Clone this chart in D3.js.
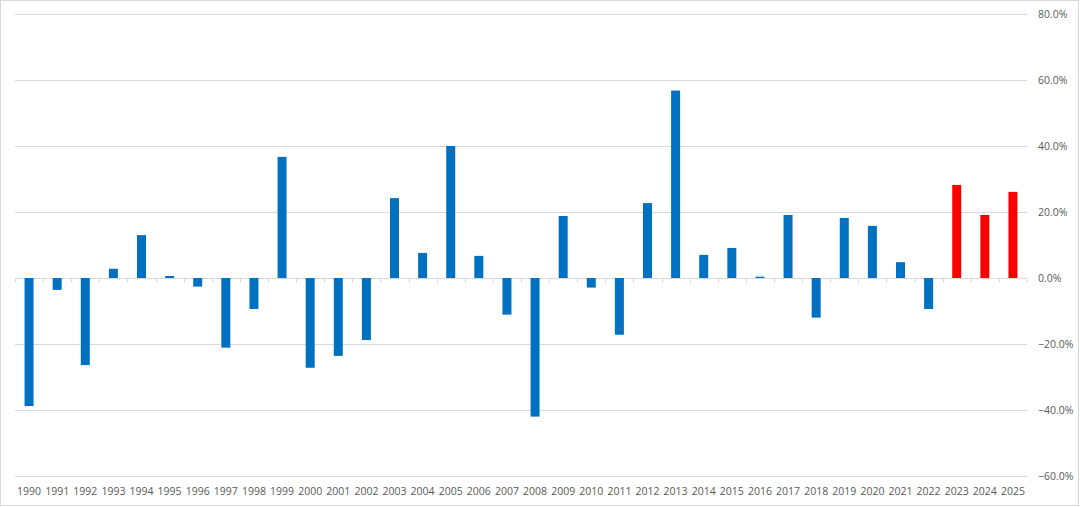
<!DOCTYPE html>
<html>
<head>
<meta charset="utf-8">
<script src="https://cdn.jsdelivr.net/npm/d3@7/dist/d3.min.js"></script>
<style>
  html, body { margin: 0; padding: 0; background: #fff; }
  text { font-family: "Open Sans", "Liberation Sans", sans-serif; fill: #595959; }
</style>
</head>
<body>
<div id="chart"></div>
<script>
// annual returns, in percent
const years = d3.range(1990, 2026).map(String);
const returns = [
    -38.8, -3.6, -26.4, 2.8, 13.0, 0.6, -2.6, -21.1, -9.4, 36.7,
    -27.2, -23.6, -18.8, 24.2, 7.6, 40.0, 6.7, -11.1, -42.0, 18.8,
    -2.9, -17.2, 22.7, 56.8, 7.0, 9.1, 0.4, 19.1, -12.0, 18.2,
    15.8, 4.8, -9.4, 28.2, 19.1, 26.1
];
const forecastYears = ['2023', '2024', '2025'];
const yTicks = [-60, -40, -20, 0, 20, 40, 60, 80];

const width = 1080, height = 507;
const margin = { top: 14, right: 53, bottom: 31, left: 15 };

const svg = d3.select('#chart').append('svg')
    .attr('width', width)
    .attr('height', height);

// outer frame
svg.append('rect')
    .attr('x', 0.5).attr('y', 0.5)
    .attr('width', width - 2).attr('height', height - 2)
    .attr('fill', 'none')
    .attr('stroke', '#d9d9d9');

const x = d3.scaleBand()
    .domain(years)
    .range([margin.left, width - margin.right])
    .paddingInner(0.68)
    .paddingOuter(0.34);

const y = d3.scaleLinear()
    .domain([-60, 80])
    .range([height - margin.bottom, margin.top]);

// gridlines
svg.append('g')
    .selectAll('line')
    .data(yTicks)
    .join('line')
    .attr('x1', margin.left)
    .attr('x2', width - margin.right)
    .attr('y1', d => Math.round(y(d)) + 0.5)
    .attr('y2', d => Math.round(y(d)) + 0.5)
    .attr('stroke', '#d9d9d9');

// right-hand value labels
svg.append('g')
    .selectAll('text')
    .data(yTicks)
    .join('text')
    .attr('x', width - margin.right + 11)
    .attr('y', d => y(d))
    .attr('dy', '0.35em')
    .attr('font-size', 10.5)
    .text(d => d3.format('.1f')(d) + '%');

// tick marks along the zero line at category boundaries
const step = x.step();
const y0 = Math.round(y(0)) + 0.5;
svg.append('g')
    .selectAll('line')
    .data(d3.range(years.length + 1))
    .join('line')
    .attr('x1', i => Math.round(margin.left + i * step) + 0.5)
    .attr('x2', i => Math.round(margin.left + i * step) + 0.5)
    .attr('y1', y0)
    .attr('y2', y0 + 4)
    .attr('stroke', '#d9d9d9');

// bars
svg.append('g')
    .selectAll('rect')
    .data(years.map((yr, i) => ({ year: yr, value: returns[i] })))
    .join('rect')
    .attr('x', d => x(d.year))
    .attr('width', x.bandwidth())
    .attr('y', d => y(Math.max(0, d.value)))
    .attr('height', d => Math.abs(y(d.value) - y(0)))
    .attr('fill', d => forecastYears.includes(d.year) ? '#ff0000' : '#0070c0');

// year labels
svg.append('g')
    .selectAll('text')
    .data(years)
    .join('text')
    .attr('x', d => x(d) + x.bandwidth() / 2)
    .attr('y', height - 16)
    .attr('dy', '0.35em')
    .attr('text-anchor', 'middle')
    .attr('font-size', 10.5)
    .text(d => d);
</script>
</body>
</html>
